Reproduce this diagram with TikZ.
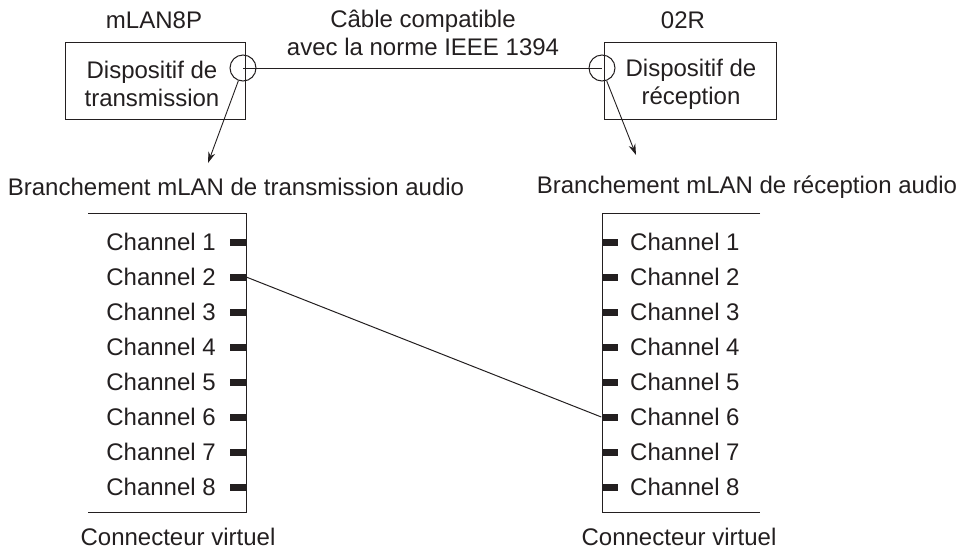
\documentclass[tikz,border=0pt]{standalone}
\usepackage{fontspec}
\setmainfont{Liberation Sans}
\usetikzlibrary{arrows.meta}
\definecolor{ink}{HTML}{231F20}
\begin{document}
\begin{tikzpicture}[x=1pt,y=-1pt,
  every node/.style={text=ink,font=\fontsize{24}{28}\selectfont,inner sep=0pt},
  line/.style={draw=ink,line width=1pt},
  devbox/.style={draw=ink,line width=1pt,rectangle},
  port/.style={draw=ink,line width=1pt,circle,minimum size=26pt,fill=none},
  stub/.style={fill=ink,rectangle,minimum width=16pt,minimum height=7pt,inner sep=0pt},
  arr/.style={draw=ink,line width=0.9pt,-{Stealth[length=11pt,width=7pt]}}]
\useasboundingbox (0,0) rectangle (963,550);
% device boxes
\path[devbox] (65,42) rectangle (245,119);
\path[devbox] (604,42) rectangle (776,119);
\node[align=center] (txd) at (152,84) {Dispositif de\\transmission};
\node[align=center] (rxd) at (691,84) {Dispositif de\\réception};
\node (mlan) at (154,20) {mLAN8P};
\node (r02) at (683,20) {02R};
\node[align=center] (cable) at (423,33) {Câble compatible\\avec la norme IEEE 1394};
% ports
\node[port] (pl) at (243,68) {};
\node[port] (pr) at (602,68) {};
\draw[line] (pl.center) -- (pr.center);
% arrows
\coordinate (al) at (208,163);
\coordinate (ar) at (636,155);
\draw[arr] (pl.-110) -- (al);
\draw[arr] (pr.-70) -- (ar);
% headings
\node (hl) at (236,187) {Branchement mLAN de transmission audio};
\node (hr) at (747,187) {Branchement mLAN de réception audio};
% virtual connectors
\draw[line] (88,213) -- (246,213) -- (246,512) -- (88,512);
\draw[line] (760,213) -- (602,213) -- (602,512) -- (760,512);
\foreach \i in {1,...,8}{
  \pgfmathsetmacro{\yy}{242+35*(\i-1)}
  \node[stub] (ls\i) at (238,\yy) {};
  \node[anchor=east] (ll\i) at (216,\yy) {Channel \i};
  \node[stub] (rs\i) at (609.5,\yy) {};
  \node[anchor=west] (rl\i) at (630,\yy) {Channel \i};
}
\draw[line] (ls2.east) -- (rs6.west);
\node (cl) at (178,537) {Connecteur virtuel};
\node (cr) at (679,537) {Connecteur virtuel};
\end{tikzpicture}
\end{document}
